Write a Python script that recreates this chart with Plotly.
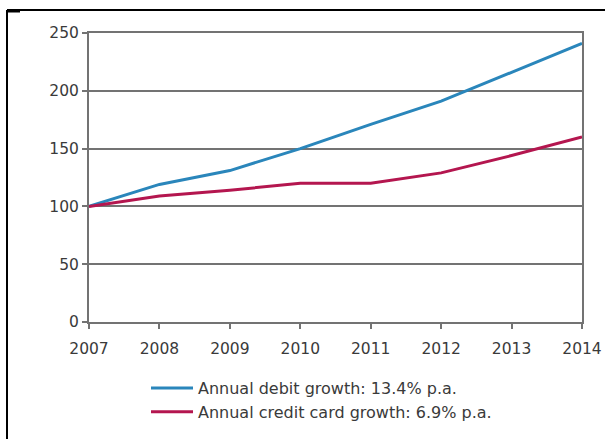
import plotly.graph_objects as go

years = [2007, 2008, 2009, 2010, 2011, 2012, 2013, 2014]
debit_index = [100, 119, 131, 150, 171, 191, 216, 241]
credit_index = [100, 109, 114, 120, 120, 129, 144, 160]
series_names = ["Annual debit growth: 13.4% p.a.", "Annual credit card growth: 6.9% p.a."]
y_ticks = [0, 50, 100, 150, 200, 250]

W, H = 605, 439
L, R, T, B = 89, 23, 33, 117
pw, ph = W - L - R, H - T - B

fig = go.Figure()
fig.add_trace(go.Scatter(x=years, y=debit_index, mode="lines", name=series_names[0],
                         line=dict(color="#2a86bb", width=3)))
fig.add_trace(go.Scatter(x=years, y=credit_index, mode="lines", name=series_names[1],
                         line=dict(color="#b4164f", width=3)))

axis_grey = "#737373"
tick_font = dict(family="DejaVu Sans, Verdana, sans-serif", size=15.5, color="#3a3a3a")
legend_font = dict(family="DejaVu Sans, Verdana, sans-serif", size=16, color="#3a3a3a")

fig.update_layout(
    width=W, height=H,
    margin=dict(l=L, r=R, t=T, b=B, autoexpand=False),
    paper_bgcolor="white", plot_bgcolor="white",
    font=tick_font,
    showlegend=True,
    legend=dict(x=(146 - L) / pw, y=(322 - 371) / ph, xanchor="left", yanchor="top",
                orientation="v", bgcolor="rgba(0,0,0,0)", font=legend_font,
                tracegroupgap=0, itemwidth=42),
    xaxis=dict(range=[2007, 2014], tickvals=years, ticktext=[str(y) for y in years],
               showgrid=False, showline=True, linecolor=axis_grey, linewidth=2,
               mirror=True, ticks="outside", ticklen=5, tickwidth=1.5, tickcolor=axis_grey,
               zeroline=False, fixedrange=True, tickfont=tick_font, automargin=False,
               ticklabelstandoff=6),
    yaxis=dict(range=[0, 250], tickvals=y_ticks, showgrid=True, gridcolor=axis_grey,
               gridwidth=2, showline=True, linecolor=axis_grey, linewidth=2, mirror=True,
               ticks="outside", ticklen=5, tickwidth=1.5, tickcolor=axis_grey,
               zeroline=False, fixedrange=True, tickfont=tick_font, automargin=False),
)

# outer frame: left and top edges
def px_x(p):
    return (p - L) / pw

def px_y(p):
    return (H - B - p) / ph

fig.add_shape(type="line", xref="paper", yref="paper",
              x0=px_x(7), x1=px_x(7), y0=px_y(10), y1=px_y(439),
              line=dict(color="black", width=2))
fig.add_shape(type="line", xref="paper", yref="paper",
              x0=px_x(7), x1=px_x(605), y0=px_y(10), y1=px_y(10),
              line=dict(color="black", width=2))
fig.add_shape(type="line", xref="paper", yref="paper",
              x0=px_x(7), x1=px_x(20), y0=px_y(11.5), y1=px_y(11.5),
              line=dict(color="black", width=2))

fig.write_html("out.html")
